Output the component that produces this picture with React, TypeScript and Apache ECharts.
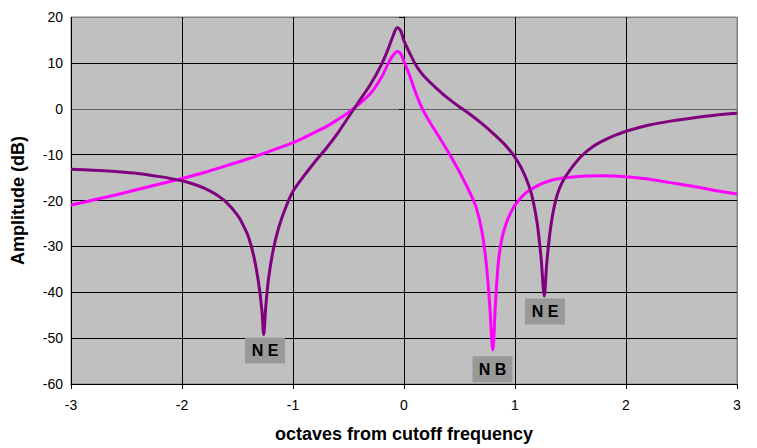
import React, { useEffect, useRef } from "react";
import * as echarts from "echarts";

// Curve E (dark purple)
const eX = [-3.0, -2.8, -2.6, -2.4, -2.2, -2.0, -1.9, -1.8, -1.7, -1.6, -1.5, -1.45, -1.4, -1.35, -1.31, -1.28, -1.264, -1.245, -1.22, -1.18, -1.13, -1.07, -1.0, -0.9, -0.8, -0.7, -0.6, -0.5, -0.4, -0.3, -0.2, -0.14, -0.1, -0.06, -0.03, 0.0, 0.05, 0.1, 0.15, 0.2, 0.3, 0.4, 0.5, 0.6, 0.7, 0.8, 0.9, 0.95, 1.0, 1.05, 1.1, 1.15, 1.2, 1.235, 1.264, 1.285, 1.31, 1.34, 1.38, 1.43, 1.5, 1.6, 1.7, 1.8, 1.9, 2.0, 2.2, 2.4, 2.6, 2.8, 3.0];
const eY = [-13.2, -13.4, -13.7, -14.1, -14.8, -15.7, -16.4, -17.3, -18.6, -20.4, -23.2, -25.3, -28.0, -32.5, -38, -44, -49.2, -43, -37, -31, -26, -21.8, -18.0, -14.6, -11.5, -8.6, -5.4, -1.8, 1.8, 5.4, 9.8, 13.2, 15.8, 17.7, 17.0, 14.8, 12.2, 9.8, 8.0, 6.6, 4.3, 2.2, 0.4, -1.3, -3.2, -5.3, -7.6, -9.0, -10.6, -12.6, -15.2, -18.7, -25, -32.5, -40.8, -34, -28, -23, -18.8, -15.8, -13.2, -10.3, -8.3, -6.9, -5.8, -4.9, -3.6, -2.7, -2.0, -1.4, -1.0];

// Curve B (magenta)
const bX = [-3.0, -2.8, -2.6, -2.4, -2.2, -2.0, -1.8, -1.6, -1.4, -1.2, -1.0, -0.9, -0.8, -0.7, -0.6, -0.5, -0.4, -0.3, -0.2, -0.14, -0.1, -0.06, -0.03, 0.0, 0.05, 0.1, 0.15, 0.2, 0.25, 0.3, 0.4, 0.5, 0.6, 0.65, 0.7, 0.74, 0.77, 0.8, 0.825, 0.85, 0.88, 0.92, 0.96, 1.0, 1.1, 1.2, 1.3, 1.4, 1.6, 1.8, 2.0, 2.2, 2.4, 2.6, 2.8, 3.0];
const bY = [-21.0, -19.9, -18.8, -17.6, -16.4, -15.2, -13.9, -12.4, -10.9, -9.2, -7.4, -6.3, -5.1, -3.9, -2.4, -0.8, 1.1, 3.4, 7.0, 10.0, 11.6, 12.5, 12.0, 10.3, 7.3, 3.8, 0.8, -1.6, -3.6, -5.5, -9.5, -13.8, -18.6, -21.5, -26.5, -33.5, -42, -52.6, -42, -33.5, -28.5, -25.0, -22.7, -21.0, -18.3, -16.8, -15.8, -15.2, -14.7, -14.6, -14.8, -15.3, -16.1, -16.9, -17.8, -18.6];

// Annotations
const noteText = ["N E", "N B", "N E"];
const noteX = [-1.252, 0.797, 1.27];
const noteY = [-52.7, -56.8, -44.2];

const xTicks = [-3, -2, -1, 0, 1, 2, 3];
const yMin = -60;
const yMax = 20;

const FONT = "'Liberation Sans', Arial, sans-serif";

export default function App() {
  const ref = useRef<HTMLDivElement>(null);
  useEffect(() => {
    if (!ref.current) return;
    const chart = echarts.init(ref.current, null, { renderer: "svg" });
    const notes = noteText.map((t, i) => ({
      coord: [noteX[i], noteY[i]],
      value: t,
    }));
    chart.setOption({
      animation: false,
      backgroundColor: "#ffffff",
      grid: {
        left: 71,
        right: 20,
        top: 17,
        bottom: 62,
        show: true,
        backgroundColor: "#c0c0c0",
        borderColor: "#808080",
        borderWidth: 1,
      },
      xAxis: {
        type: "value",
        min: xTicks[0],
        max: xTicks[xTicks.length - 1],
        interval: 1,
        name: "octaves from cutoff frequency",
        nameLocation: "middle",
        nameGap: 41,
        nameTextStyle: { fontFamily: FONT, fontSize: 18, fontWeight: "bold", color: "#000" },
        axisLine: { show: true, onZero: false, lineStyle: { color: "#000", width: 1 } },
        axisTick: { show: true, inside: false, length: 5, lineStyle: { color: "#000" } },
        axisLabel: { fontFamily: FONT, fontSize: 14, color: "#000", margin: 14 },
        splitLine: {
          show: true,
          lineStyle: { color: ["#000", "#000", "#000", "#000", "#000", "#000", "#808080"], width: 1 },
        },
      },
      yAxis: {
        type: "value",
        min: yMin,
        max: yMax,
        interval: 10,
        name: "Amplitude (dB)",
        nameLocation: "middle",
        nameGap: 44,
        nameTextStyle: { fontFamily: FONT, fontSize: 18, fontWeight: "bold", color: "#000" },
        axisLine: { show: true, lineStyle: { color: "#000", width: 1 } },
        axisTick: { show: true, inside: false, length: 5, lineStyle: { color: "#000" } },
        axisLabel: { fontFamily: FONT, fontSize: 14, color: "#000", margin: 8 },
        splitLine: {
          show: true,
          lineStyle: {
            color: ["#000", "#000", "#000", "#000", "#000", "#000", "#606060", "#000", "#808080"],
            width: 1,
          },
        },
      },
      series: [
        {
          name: "B",
          type: "line",
          data: bX.map((x, i) => [x, bY[i]]),
          showSymbol: false,
          smooth: 0.3,
          lineStyle: { color: "#ff00ff", width: 3 },
          itemStyle: { color: "#ff00ff" },
          z: 3,
        },
        {
          name: "E",
          type: "line",
          data: eX.map((x, i) => [x, eY[i]]),
          showSymbol: false,
          smooth: 0.3,
          lineStyle: { color: "#800080", width: 3 },
          itemStyle: { color: "#800080" },
          z: 4,
          markPoint: {
            silent: true,
            symbol: "rect",
            symbolSize: [40, 26],
            itemStyle: { color: "#999999" },
            label: {
              show: true,
              position: "inside",
              formatter: (p: any) => p.value,
              fontFamily: FONT,
              fontSize: 16,
              fontWeight: "bold",
              color: "#000",
            },
            data: notes,
          },
        },
      ],
    });
    return () => chart.dispose();
  }, []);
  return (
    <div
      ref={ref}
      style={{ position: "fixed", left: 0, top: 0, width: 757, height: 448 }}
    />
  );
}
